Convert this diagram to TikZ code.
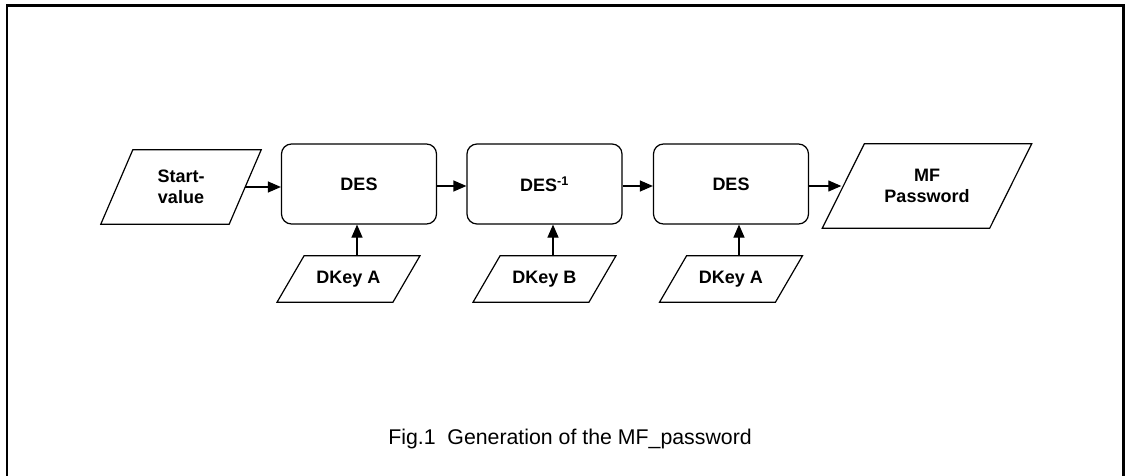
\documentclass[tikz,border=0pt]{standalone}
\usepackage{fontspec}
\setmainfont{Liberation Sans}
\usetikzlibrary{arrows.meta,calc}

\tikzset{
  proc/.style={draw, line width=1.2pt, rounded corners=10pt,
    minimum width=155pt, minimum height=80pt, inner sep=0pt,
    font=\fontsize{18}{21.5}\selectfont\bfseries, align=center},
  iodata/.style={inner sep=0pt, align=center,
    font=\fontsize{18}{21.5}\selectfont\bfseries},
  ioline/.style={draw, line width=1.2pt, line join=miter},
  flow/.style={line width=1.2pt, -{Triangle[length=13pt,width=11pt]}},
  frameline/.style={line width=2.2pt}
}

% parallelogram drawn round a node: #1 node name, #2 horizontal slant
\newcommand{\iooutline}[2]{%
  \path[ioline] ($(#1.south west)+(-#2/2,0)$) -- ($(#1.south east)+(-#2/2,0)$)
    -- ($(#1.north east)+(#2/2,0)$) -- ($(#1.north west)+(#2/2,0)$) -- cycle;}

\begin{document}
\begin{tikzpicture}[x=1pt,y=-1pt]
  \useasboundingbox (0,0) rectangle (1125,476);

  % open frame round the figure
  \draw[frameline] (7,477) -- (7,5.5) -- (1123.5,5.5) -- (1123.5,477);

  % input and output data
  \node[iodata, minimum width=128pt, minimum height=74pt] (sv) at (181,187) {Start-\\value};
  \iooutline{sv}{32}
  \node[iodata, minimum width=167pt, minimum height=84pt] (mf) at (927,186) {MF\\Password};
  \iooutline{mf}{42}

  % cipher stages
  \node[proc] (des1) at (359,184) {DES};
  \node[proc] (desi) at (544.5,184) {DES\textsuperscript{-1}};
  \node[proc] (des3) at (731,184) {DES};

  % keys
  \node[iodata, minimum width=115.5pt, minimum height=46pt] (ka) at (348.5,279) {DKey A};
  \iooutline{ka}{27}
  \node[iodata, minimum width=115.5pt, minimum height=46pt] (kb) at (544.5,279) {DKey B};
  \iooutline{kb}{27}
  \node[iodata, minimum width=115.5pt, minimum height=46pt] (kc) at (731,279) {DKey A};
  \iooutline{kc}{27}

  % data flow
  \draw[flow] (sv.east) -- (sv.east -| des1.west);
  \draw[flow] ([yshift=-2pt]des1.east) -- ([yshift=-2pt]desi.west);
  \draw[flow] ([yshift=-2pt]desi.east) -- ([yshift=-2pt]des3.west);
  \coordinate (mfin) at ([xshift=-2pt]mf.west |- des3.east);
  \draw[flow] ([yshift=-2pt]des3.east) -- ([yshift=-2pt]mfin);

  % key inputs
  \draw[flow] ([xshift=8.5pt]ka.north) -- ([xshift=8.5pt]ka.north |- des1.south);
  \draw[flow] ([xshift=8.5pt]kb.north) -- ([xshift=8.5pt]kb.north |- desi.south);
  \draw[flow] ([xshift=8pt]kc.north) -- ([xshift=8pt]kc.north |- des3.south);

  % caption
  \node[font=\fontsize{21.3}{24}\selectfont] (cap) at (570,439) {Fig.1\ \ Generation of the MF\_password};
\end{tikzpicture}
\end{document}
